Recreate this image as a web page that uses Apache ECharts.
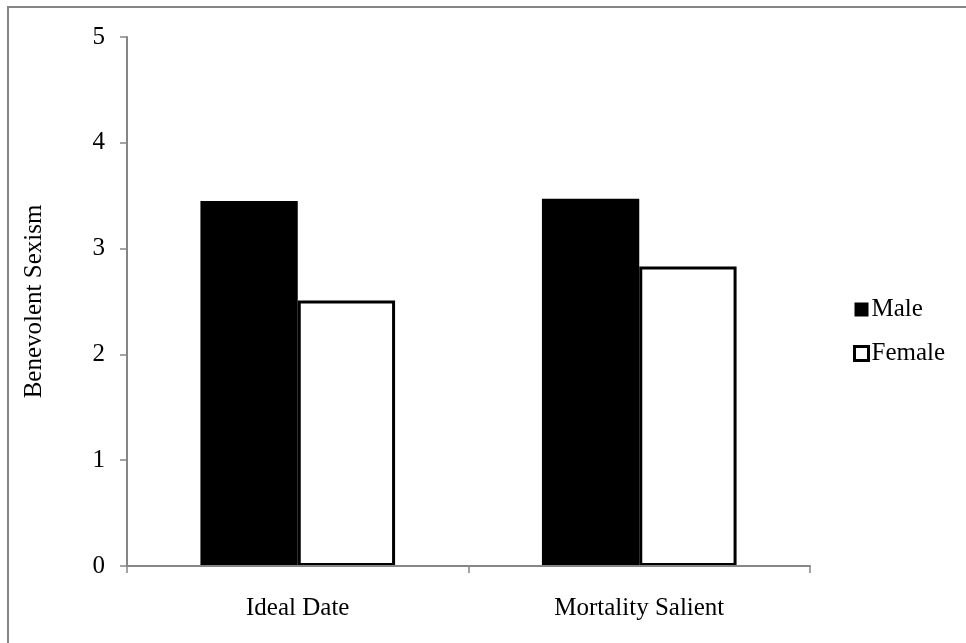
<!DOCTYPE html>
<html>
<head>
<meta charset="utf-8">
<script src="https://cdn.jsdelivr.net/npm/echarts@6/dist/echarts.min.js"></script>
<style>html,body{margin:0;padding:0;background:#fff;}#c{width:966px;height:643px;}</style>
</head>
<body>
<div id="c"></div>
<script>
var categories = ['Ideal Date', 'Mortality Salient'];
var maleValues = [3.45, 3.47];
var femaleValues = [2.51, 2.83];
var yTicks = [0, 1, 2, 3, 4, 5];

var chart = echarts.init(document.getElementById('c'));
var font = 'Liberation Serif';
chart.setOption({
  animation: false,
  backgroundColor: '#fff',
  graphic: [{
    type: 'rect',
    shape: {x: 8, y: 7, width: 1000, height: 700},
    style: {fill: 'none', stroke: '#868686', lineWidth: 2},
    silent: true
  }],
  grid: {left: 127, right: 156, top: 37, bottom: 77},
  legend: {
    orient: 'vertical',
    left: 848,
    top: 292,
    itemWidth: 14,
    itemHeight: 14,
    itemGap: 19,
    textStyle: {fontFamily: font, fontSize: 25, color: '#000', padding: [0, 0, 0, -2]},
    data: [
      {name: 'Male', icon: 'rect', itemStyle: {color: '#000', borderWidth: 0}},
      {name: 'Female', icon: 'rect', itemStyle: {color: '#fff', borderColor: '#000', borderWidth: 3}}
    ]
  },
  xAxis: {
    type: 'category',
    data: categories,
    z: 3,
    axisLine: {lineStyle: {color: '#868686', width: 2}},
    axisTick: {show: true, length: 7, alignWithLabel: false, lineStyle: {color: '#868686', width: 1.5}},
    axisLabel: {fontFamily: font, fontSize: 25, color: '#000', margin: 30}
  },
  yAxis: {
    type: 'value',
    min: yTicks[0],
    max: yTicks[yTicks.length - 1],
    interval: 1,
    name: 'Benevolent Sexism',
    nameLocation: 'middle',
    nameGap: 80,
    nameTextStyle: {fontFamily: font, fontSize: 25, color: '#000'},
    splitLine: {show: false},
    axisLine: {show: true, lineStyle: {color: '#868686', width: 2}},
    axisTick: {show: true, length: 7, lineStyle: {color: '#868686', width: 1.5}},
    axisLabel: {fontFamily: font, fontSize: 25, color: '#000', margin: 22}
  },
  series: [
    {
      name: 'Male', type: 'bar', data: maleValues,
      barGap: '0%', barCategoryGap: '43%',
      itemStyle: {color: '#000'}
    },
    {
      name: 'Female', type: 'bar', data: femaleValues,
      barGap: '0%', barCategoryGap: '43%',
      itemStyle: {color: '#fff', borderColor: '#000', borderWidth: 3}
    }
  ]
});
</script>
</body>
</html>
